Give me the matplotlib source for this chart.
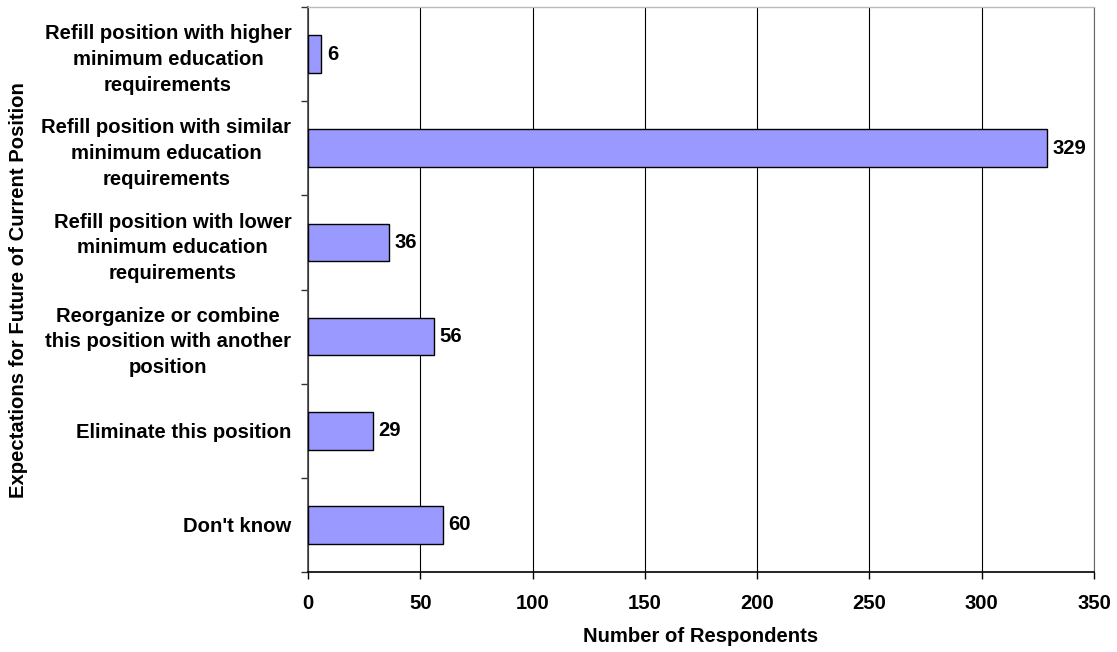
import matplotlib
matplotlib.use("Agg")
import matplotlib.pyplot as plt
import numpy as np

categories = [
    "Refill position with higher\nminimum education\nrequirements",
    "Refill position with similar\nminimum education\nrequirements",
    "Refill position with lower\nminimum education\nrequirements",
    "Reorganize or combine\nthis position with another\nposition",
    "Eliminate this position",
    "Don't know",
]
values = [6, 329, 36, 56, 29, 60]
x_ticks = [0, 50, 100, 150, 200, 250, 300, 350]

plt.rcParams['font.family'] = ['Liberation Sans', 'DejaVu Sans']
plt.rcParams['font.weight'] = 'bold'

FS = 14.6

fig = plt.figure(figsize=(11.17, 6.52), dpi=100)
ax = fig.add_axes([308/1117, 1-572/652, (1094-308)/1117, (572-7)/652])

n = len(categories)
ypos = np.arange(n)
bars = ax.barh(ypos, values, height=0.4, color='#9999FF', edgecolor='black',
               linewidth=1.0, zorder=3)
ax.bar_label(bars, labels=[str(v) for v in values], padding=4,
             fontsize=FS, fontweight='bold', color='black')

ax.set_xlim(0, 350)
ax.set_ylim(n - 0.5, -0.5)
ax.set_xticks(x_ticks)
ax.set_xticklabels([str(t) for t in x_ticks], fontsize=FS, fontweight='bold')
ax.tick_params(axis='x', length=5, width=1, direction='out', pad=11, color='black')

ax.set_yticks(ypos)
ax.set_yticklabels(categories, fontsize=FS, fontweight='bold',
                   multialignment='center', linespacing=1.45)
ax.tick_params(axis='y', which='major', length=0, pad=12)
ax.set_yticks(np.arange(n + 1) - 0.5, minor=True)
ax.tick_params(axis='y', which='minor', length=5, width=1, direction='out', color='#333333')

ax.grid(axis='x', color='black', linewidth=0.8, zorder=0)
ax.set_axisbelow(True)

ax.spines['top'].set_color('#BBBBBB')
ax.spines['top'].set_linewidth(1)
ax.spines['right'].set_color('#666666')
ax.spines['right'].set_linewidth(0.8)
ax.spines['left'].set_color('#444444')
ax.spines['left'].set_linewidth(1.2)
ax.spines['bottom'].set_color('black')
ax.spines['bottom'].set_linewidth(1.2)

fig.text((308+1094)/2/1117, 1-637/652, "Number of Respondents", ha='center', va='center',
         fontsize=FS, fontweight='bold')
fig.text(19/1117, 1-290/652, "Expectations for Future of Current Position", ha='center',
         va='center', rotation=90, fontsize=FS, fontweight='bold')

fig.savefig("out.png", dpi=100)
